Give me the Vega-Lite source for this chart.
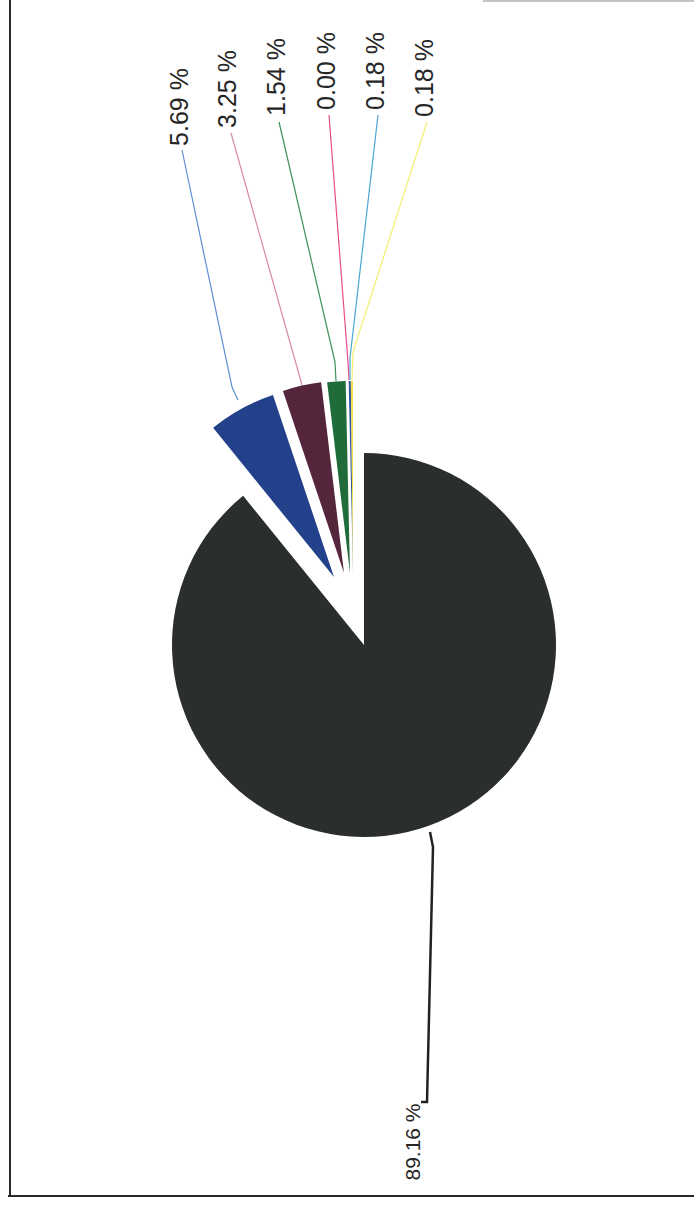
{
  "$schema": "https://vega.github.io/schema/vega-lite/v6.json",
  "width": 660,
  "height": 1166,
  "padding": {"left": 34, "top": 62, "right": 0, "bottom": 0},
  "autosize": {"type": "none"},
  "background": "white",
  "config": {"view": {"stroke": null}, "font": "Liberation Sans"},
  "datasets": {
    "slices": [
      {"cat": "s1", "value": 89.16, "order": 1, "label": "89.16 %"},
      {"cat": "s2", "value": 5.69, "order": 2, "label": "5.69 %"},
      {"cat": "s3", "value": 3.25, "order": 3, "label": "3.25 %"},
      {"cat": "s4", "value": 1.54, "order": 4, "label": "1.54 %"},
      {"cat": "s5", "value": 0.0, "order": 5, "label": "0.00 %"},
      {"cat": "s6", "value": 0.18, "order": 6, "label": "0.18 %"},
      {"cat": "s7", "value": 0.18, "order": 7, "label": "0.18 %"}
    ],
    "leaders": [
      {"cat": "s1", "seq": 0, "lx": 57, "ly": -457},
      {"cat": "s1", "seq": 1, "lx": 63, "ly": -457},
      {"cat": "s1", "seq": 2, "lx": 69, "ly": -202},
      {"cat": "s1", "seq": 3, "lx": 66, "ly": -187},
      {"cat": "s2", "seq": 0, "lx": -182, "ly": 495},
      {"cat": "s2", "seq": 1, "lx": -132, "ly": 258},
      {"cat": "s2", "seq": 2, "lx": -126, "ly": 245},
      {"cat": "s3", "seq": 0, "lx": -133, "ly": 512},
      {"cat": "s3", "seq": 1, "lx": -62, "ly": 260},
      {"cat": "s4", "seq": 0, "lx": -85, "ly": 523},
      {"cat": "s4", "seq": 1, "lx": -29, "ly": 283},
      {"cat": "s4", "seq": 2, "lx": -28, "ly": 264},
      {"cat": "s5", "seq": 0, "lx": -35, "ly": 530},
      {"cat": "s5", "seq": 1, "lx": -16, "ly": 283},
      {"cat": "s5", "seq": 2, "lx": -15, "ly": 265},
      {"cat": "s6", "seq": 0, "lx": 14, "ly": 530},
      {"cat": "s6", "seq": 1, "lx": -14, "ly": 287},
      {"cat": "s6", "seq": 2, "lx": -14, "ly": 265},
      {"cat": "s7", "seq": 0, "lx": 63, "ly": 523},
      {"cat": "s7", "seq": 1, "lx": -11, "ly": 293},
      {"cat": "s7", "seq": 2, "lx": -12, "ly": 265}
    ],
    "labels": [
      {"cat": "s1", "text": "89.16 %", "tx": 50, "ty": -497},
      {"cat": "s2", "text": "5.69 %", "tx": -184, "ty": 538},
      {"cat": "s3", "text": "3.25 %", "tx": -136, "ty": 556},
      {"cat": "s4", "text": "1.54 %", "tx": -87, "ty": 568},
      {"cat": "s5", "text": "0.00 %", "tx": -37, "ty": 574},
      {"cat": "s6", "text": "0.18 %", "tx": 12, "ty": 574},
      {"cat": "s7", "text": "0.18 %", "tx": 61, "ty": 567}
    ],
    "frame": [
      {"part": "left", "fx": -354, "fx2": -354, "fy": 645, "fy2": -551},
      {"part": "bottom", "fx": -356, "fx2": 330, "fy": -551, "fy2": -551},
      {"part": "top", "fx": 119, "fx2": 330, "fy": 644, "fy2": 644}
    ]
  },
  "layer": [
    {
      "data": {"name": "frame"},
      "transform": [{"filter": "datum.part !== 'top'"}],
      "mark": {"type": "rule", "color": "#2a2a2a", "strokeWidth": 2},
      "encoding": {
        "x": {"field": "fx", "type": "quantitative", "scale": {"domain": [-330, 330], "nice": false, "zero": false}, "axis": null},
        "x2": {"field": "fx2"},
        "y": {"field": "fy", "type": "quantitative", "scale": {"domain": [-583, 583], "nice": false, "zero": false}, "axis": null},
        "y2": {"field": "fy2"}
      }
    },
    {
      "data": {"name": "frame"},
      "transform": [{"filter": "datum.part === 'top'"}],
      "mark": {"type": "rule", "color": "#c4c4c4", "strokeWidth": 2},
      "encoding": {
        "x": {"field": "fx", "type": "quantitative", "scale": {"domain": [-330, 330], "nice": false, "zero": false}, "axis": null},
        "x2": {"field": "fx2"},
        "y": {"field": "fy", "type": "quantitative", "scale": {"domain": [-583, 583], "nice": false, "zero": false}, "axis": null},
        "y2": {"field": "fy2"}
      }
    },
    {
      "data": {"name": "slices"},
      "transform": [
        {"stack": "value", "groupby": [], "as": ["v0", "v1"], "sort": [{"field": "order", "order": "ascending"}]},
        {"filter": "datum.cat === 's1'"}
      ],
      "mark": {"type": "arc", "outerRadius": 192, "innerRadius": 0},
      "encoding": {
        "theta": {"field": "v0", "type": "quantitative", "scale": {"domain": [0, 100]}},
        "theta2": {"field": "v1"},
        "fill": {"field": "cat", "type": "nominal", "legend": null,
          "scale": {"domain": ["s1", "s2", "s3", "s4", "s5", "s6", "s7"], "range": ["#2b2f2b", "#22418a", "#55263b", "#1f6b3a", "#e0407a", "#2f56a0", "#f2e04a"]}}
      }
    },
    {
      "data": {"name": "slices"},
      "transform": [
        {"stack": "value", "groupby": [], "as": ["v0", "v1"], "sort": [{"field": "order", "order": "ascending"}]},
        {"filter": "datum.cat === 's2'"}
      ],
      "mark": {"type": "arc", "outerRadius": 192, "innerRadius": 0},
      "encoding": {
        "x": {"datum": -30, "type": "quantitative", "scale": {"domain": [-330, 330], "nice": false, "zero": false}, "axis": null},
        "y": {"datum": 68, "type": "quantitative", "scale": {"domain": [-583, 583], "nice": false, "zero": false}, "axis": null},
        "theta": {"field": "v0", "type": "quantitative", "scale": {"domain": [0, 100]}},
        "theta2": {"field": "v1"},
        "fill": {"field": "cat", "type": "nominal", "legend": null}
      }
    },
    {
      "data": {"name": "slices"},
      "transform": [
        {"stack": "value", "groupby": [], "as": ["v0", "v1"], "sort": [{"field": "order", "order": "ascending"}]},
        {"filter": "datum.cat === 's3'"}
      ],
      "mark": {"type": "arc", "outerRadius": 192, "innerRadius": 0},
      "encoding": {
        "x": {"datum": -20, "type": "quantitative", "scale": {"domain": [-330, 330], "nice": false, "zero": false}, "axis": null},
        "y": {"datum": 72, "type": "quantitative", "scale": {"domain": [-583, 583], "nice": false, "zero": false}, "axis": null},
        "theta": {"field": "v0", "type": "quantitative", "scale": {"domain": [0, 100]}},
        "theta2": {"field": "v1"},
        "fill": {"field": "cat", "type": "nominal", "legend": null}
      }
    },
    {
      "data": {"name": "slices"},
      "transform": [
        {"stack": "value", "groupby": [], "as": ["v0", "v1"], "sort": [{"field": "order", "order": "ascending"}]},
        {"filter": "datum.cat === 's4'"}
      ],
      "mark": {"type": "arc", "outerRadius": 192, "innerRadius": 0},
      "encoding": {
        "x": {"datum": -14, "type": "quantitative", "scale": {"domain": [-330, 330], "nice": false, "zero": false}, "axis": null},
        "y": {"datum": 72, "type": "quantitative", "scale": {"domain": [-583, 583], "nice": false, "zero": false}, "axis": null},
        "theta": {"field": "v0", "type": "quantitative", "scale": {"domain": [0, 100]}},
        "theta2": {"field": "v1"},
        "fill": {"field": "cat", "type": "nominal", "legend": null}
      }
    },
    {
      "data": {"name": "slices"},
      "transform": [
        {"stack": "value", "groupby": [], "as": ["v0", "v1"], "sort": [{"field": "order", "order": "ascending"}]},
        {"filter": "datum.order >= 5"}
      ],
      "mark": {"type": "arc", "outerRadius": 192, "innerRadius": 0},
      "encoding": {
        "x": {"datum": -11, "type": "quantitative", "scale": {"domain": [-330, 330], "nice": false, "zero": false}, "axis": null},
        "y": {"datum": 72, "type": "quantitative", "scale": {"domain": [-583, 583], "nice": false, "zero": false}, "axis": null},
        "theta": {"field": "v0", "type": "quantitative", "scale": {"domain": [0, 100]}},
        "theta2": {"field": "v1"},
        "fill": {"field": "cat", "type": "nominal", "legend": null}
      }
    },
    {
      "data": {"name": "leaders"},
      "transform": [{"filter": "datum.cat !== 's1'"}],
      "mark": {"type": "line", "strokeWidth": 1.2, "interpolate": "linear"},
      "encoding": {
        "x": {"field": "lx", "type": "quantitative", "scale": {"domain": [-330, 330], "nice": false, "zero": false}, "axis": null},
        "y": {"field": "ly", "type": "quantitative", "scale": {"domain": [-583, 583], "nice": false, "zero": false}, "axis": null},
        "order": {"field": "seq", "type": "quantitative"},
        "detail": {"field": "cat", "type": "nominal"},
        "stroke": {"field": "cat", "type": "nominal", "legend": null,
          "scale": {"domain": ["s1", "s2", "s3", "s4", "s5", "s6", "s7"], "range": ["#222222", "#5b8fd6", "#d88aa8", "#3d9057", "#ec4c8c", "#4aa6d6", "#f4ee70"]}}
      }
    },
    {
      "data": {"name": "leaders"},
      "transform": [{"filter": "datum.cat === 's1'"}],
      "mark": {"type": "line", "strokeWidth": 2.5, "color": "#222222", "interpolate": "linear"},
      "encoding": {
        "x": {"field": "lx", "type": "quantitative", "scale": {"domain": [-330, 330], "nice": false, "zero": false}, "axis": null},
        "y": {"field": "ly", "type": "quantitative", "scale": {"domain": [-583, 583], "nice": false, "zero": false}, "axis": null},
        "order": {"field": "seq", "type": "quantitative"}
      }
    },
    {
      "data": {"name": "labels"},
      "transform": [{"filter": "datum.cat !== 's1'"}],
      "mark": {"type": "text", "angle": 270, "fontSize": 25, "align": "center", "baseline": "middle", "color": "#262626", "font": "Liberation Sans"},
      "encoding": {
        "x": {"field": "tx", "type": "quantitative", "scale": {"domain": [-330, 330], "nice": false, "zero": false}, "axis": null},
        "y": {"field": "ty", "type": "quantitative", "scale": {"domain": [-583, 583], "nice": false, "zero": false}, "axis": null},
        "text": {"field": "text", "type": "nominal"}
      }
    },
    {
      "data": {"name": "labels"},
      "transform": [{"filter": "datum.cat === 's1'"}],
      "mark": {"type": "text", "angle": 270, "fontSize": 21, "align": "center", "baseline": "middle", "color": "#262626", "font": "Liberation Sans"},
      "encoding": {
        "x": {"field": "tx", "type": "quantitative", "scale": {"domain": [-330, 330], "nice": false, "zero": false}, "axis": null},
        "y": {"field": "ty", "type": "quantitative", "scale": {"domain": [-583, 583], "nice": false, "zero": false}, "axis": null},
        "text": {"field": "text", "type": "nominal"}
      }
    }
  ]
}
